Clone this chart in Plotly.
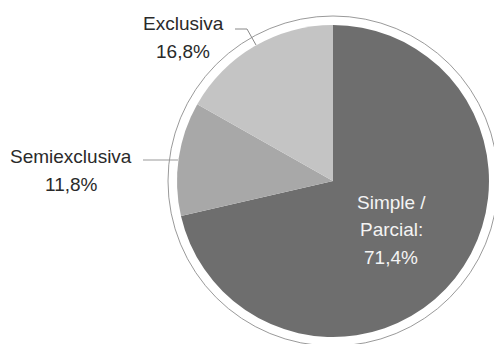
import plotly.graph_objects as go

categories = ["Simple / Parcial", "Semiexclusiva", "Exclusiva"]
values = [71.4, 11.8, 16.8]
value_labels = ["71,4%", "11,8%", "16,8%"]
colors = ["#6e6e6e", "#a8a8a8", "#c4c4c4"]

W, H = 494, 344
cx, cy, r, ring_r = 333, 181, 156, 165

def px(x):
    return x / W

def py(y):
    return 1 - y / H

fig = go.Figure(go.Pie(
    labels=categories,
    values=values,
    sort=False,
    direction="clockwise",
    rotation=0,
    marker=dict(colors=colors, line=dict(width=0)),
    textinfo="none",
    hoverinfo="label+percent",
    domain=dict(x=[px(cx - r), px(cx + r)], y=[py(cy + r), py(cy - r)]),
    showlegend=False,
))

family = "Liberation Sans, Arial, Helvetica, sans-serif"
dark = dict(family=family, size=19, color="#2a2a2a")
light = dict(family=family, size=19, color="#f4f4f4")

def label(x, y, text, font):
    fig.add_annotation(x=px(x), y=py(y), xref="paper", yref="paper", text=text,
                       showarrow=False, font=font, xanchor="center", yanchor="middle")

label(183, 23, categories[2], dark)
label(183, 51, value_labels[2], dark)
label(71, 157, categories[1], dark)
label(71, 185, value_labels[1], dark)
label(391, 202, "Simple /", light)
label(391, 229, "Parcial:", light)
label(391, 257, value_labels[0], light)

fig.add_shape(type="circle", xref="paper", yref="paper",
              x0=px(cx - ring_r), x1=px(cx + ring_r), y0=py(cy + ring_r), y1=py(cy - ring_r),
              line=dict(color="#9a9a9a", width=1), layer="below")
fig.add_shape(type="path", xref="paper", yref="paper",
              path=f"M {px(235)},{py(29)} L {px(247)},{py(29)} L {px(256)},{py(45)}",
              line=dict(color="#888888", width=1))
fig.add_shape(type="line", xref="paper", yref="paper",
              x0=px(143), x1=px(178), y0=py(160), y1=py(160),
              line=dict(color="#999999", width=1))

fig.update_layout(width=W, height=H, margin=dict(l=0, r=0, t=0, b=0),
                  paper_bgcolor="white", plot_bgcolor="white")
fig.write_html("out.html", config={"displayModeBar": False},
               post_script="document.body.style.margin='0';document.body.style.overflow='hidden';")
